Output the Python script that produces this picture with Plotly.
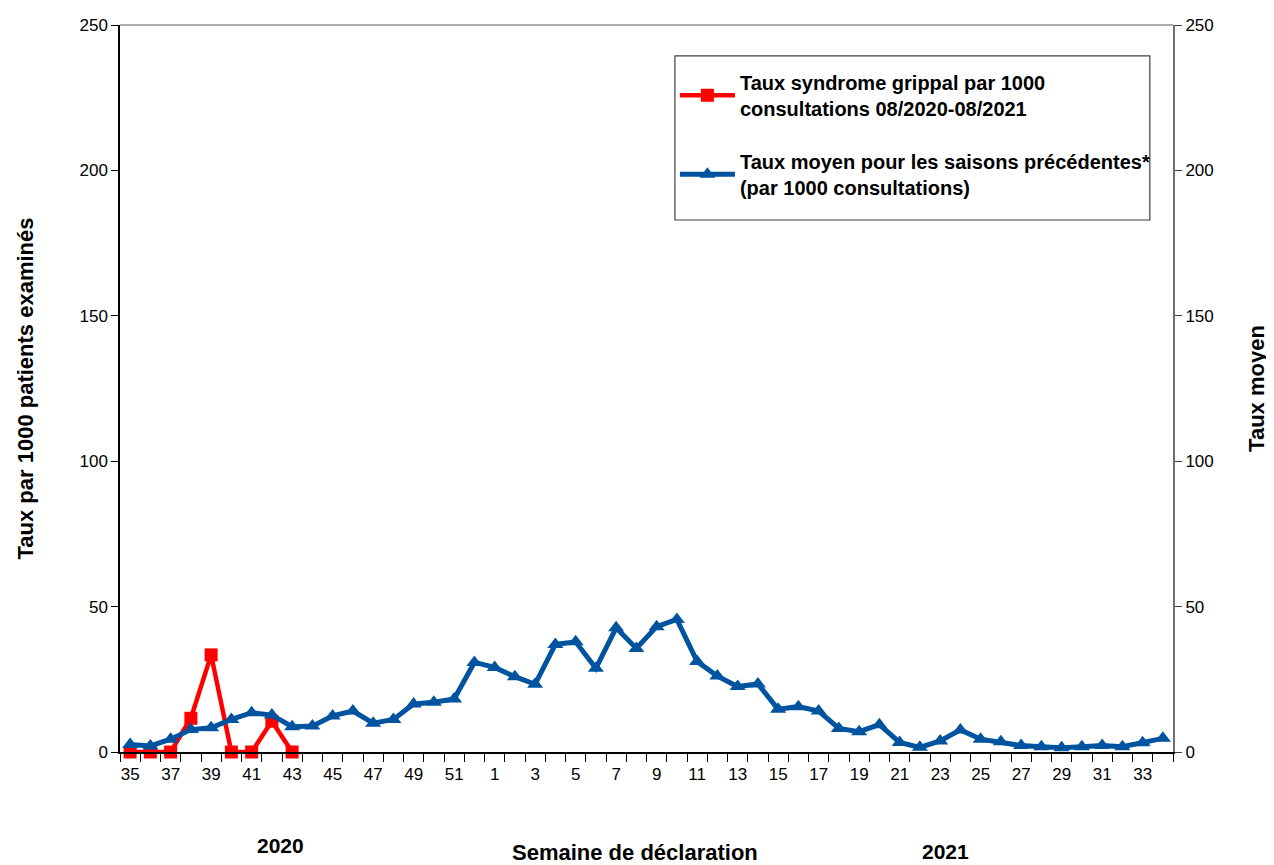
import plotly.graph_objects as go

weeks = [str(w) for w in range(35, 53)] + [str(w) for w in range(1, 35)]

taux_moyen = [2.6, 2.1, 4.4, 7.7, 8.3, 11.2, 13.5, 12.7, 8.7, 8.9, 12.4, 14.1, 9.9, 11.2,
              16.5, 17.1, 18.2, 30.8, 29.1, 25.9, 23.3, 37.0, 37.9, 28.8, 42.7, 35.6,
              43.1, 45.6, 31.1, 26.1, 22.5, 23.4, 14.7, 15.6, 14.1, 8.1, 7.0, 9.4,
              3.3, 1.6, 3.8, 7.6, 4.4, 3.5, 2.2, 1.8, 1.5, 1.8, 2.2, 1.8, 3.2, 4.7]

taux_grippal = [0, 0, 0, 11.6, 33.4, 0, 0, 10.6, 0]

y_ticks = [0, 50, 100, 150, 200, 250]

name_red = "Taux syndrome grippal par 1000<br>consultations 08/2020-08/2021"
name_blue = "Taux moyen pour les saisons précédentes*<br>(par 1000 consultations)"

FONT = "Liberation Sans, Arial, sans-serif"
RED = "#FF0000"
BLUE = "#00549F"

idx = list(range(len(weeks)))

fig = go.Figure()
fig.add_trace(go.Scatter(
    x=idx[:len(taux_grippal)], y=taux_grippal, name=name_red, mode="lines+markers",
    line=dict(color=RED, width=4.5), marker=dict(symbol="square", size=13, color=RED),
    cliponaxis=False, legendgroup="a", yaxis="y"))
fig.add_trace(go.Scatter(
    x=idx, y=taux_moyen, name=name_blue, mode="lines+markers",
    line=dict(color=BLUE, width=5), marker=dict(symbol="triangle-up", size=14, color=BLUE),
    cliponaxis=False, legendgroup="b", yaxis="y2"))

fig.update_layout(
    width=1266, height=857, autosize=False,
    margin=dict(l=112, r=101, t=17, b=113, autoexpand=False),
    plot_bgcolor="white", paper_bgcolor="white",
    font=dict(family=FONT, size=17, color="black"),
    showlegend=True,
    legend=dict(x=0.527, y=0.948, xanchor="left", yanchor="top",
                borderwidth=0, bgcolor="rgba(0,0,0,0)",
                itemwidth=55, tracegroupgap=24,
                font=dict(family=FONT, size=20, color="black", weight="bold")),
    xaxis=dict(range=[-0.5, len(weeks) - 0.5], tickmode="array",
               tickvals=idx[::2], ticktext=weeks[::2],
               showline=True, linecolor="black", linewidth=1.5,
               ticks="", showgrid=False, zeroline=False, automargin=False,
               tickfont=dict(size=17), ticklabelstandoff=6,
               minor=dict(tick0=-0.5, dtick=1, ticks="outside", ticklen=8,
                          tickcolor="black", tickwidth=1.2, showgrid=False)),
    yaxis=dict(range=[0, 250], tickmode="array", tickvals=y_ticks,
               showline=True, linecolor="black", linewidth=1.5,
               ticks="outside", ticklen=7, tickcolor="black", automargin=False,
               showgrid=False, zeroline=False, tickfont=dict(size=17),
               title=dict(text="Taux par 1000 patients examinés",
                          font=dict(size=22, weight="bold"), standoff=40)),
    yaxis2=dict(range=[0, 250], tickmode="array", tickvals=y_ticks,
                overlaying="y", side="right", automargin=False,
                showline=True, linecolor="#707070", linewidth=2,
                ticks="outside", ticklen=7, tickcolor="#404040",
                showgrid=False, zeroline=False, tickfont=dict(size=17),
                title=dict(text="Taux moyen",
                           font=dict(size=22, weight="bold"), standoff=36)),
    shapes=[
        dict(type="line", xref="paper", yref="paper", x0=0, x1=1, y0=1, y1=1,
             line=dict(color="#909090", width=1.5)),
        dict(type="rect", xref="paper", yref="paper", x0=0.527, x1=0.978,
             y0=0.7318, y1=0.9574, line=dict(color="#404040", width=1.2),
             fillcolor="rgba(0,0,0,0)"),
    ],
    annotations=[
        dict(text="Semaine de déclaration", xref="paper", yref="paper",
             x=0.489, y=-0.1376, xanchor="center", yanchor="middle", showarrow=False,
             font=dict(size=22, weight="bold")),
        dict(text="2020", xref="paper", yref="paper",
             x=0.152, y=-0.128, xanchor="center", yanchor="middle", showarrow=False,
             font=dict(size=21, weight="bold")),
        dict(text="2021", xref="paper", yref="paper",
             x=0.7835, y=-0.1365, xanchor="center", yanchor="middle", showarrow=False,
             font=dict(size=21, weight="bold")),
    ],
)

fig.write_html("out.html")
